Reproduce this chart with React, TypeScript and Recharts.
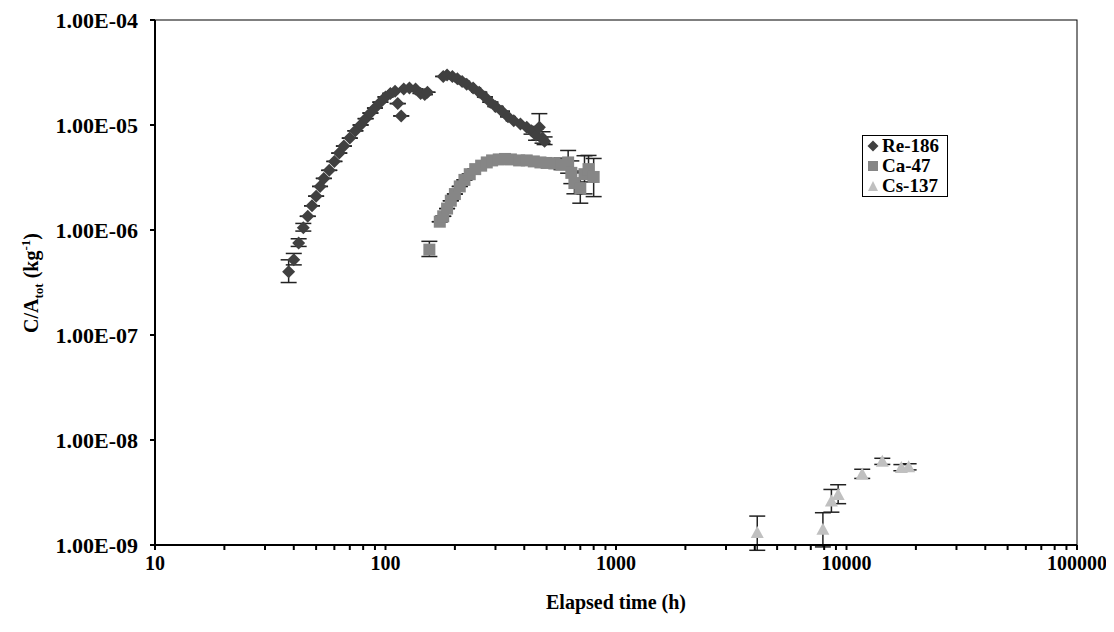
import React from 'react';
import { ScatterChart, Scatter, XAxis, YAxis, ErrorBar } from 'recharts';

const reT = [38,40,42,44,46,48,50,52,54,57,60,63,66,70,74,78,82,86,90,95,100,105,110,113,117,120,127,135,142,148,152,178,185,195,205,215,225,240,255,270,285,300,320,340,360,385,410,430,450,465,480,490];
const reV = [4.0e-7,5.2e-7,7.5e-7,1.05e-6,1.35e-6,1.7e-6,2.1e-6,2.6e-6,3.1e-6,3.7e-6,4.5e-6,5.4e-6,6.3e-6,7.5e-6,8.8e-6,1.0e-5,1.15e-5,1.3e-5,1.45e-5,1.65e-5,1.85e-5,2.0e-5,2.1e-5,1.6e-5,1.22e-5,2.2e-5,2.25e-5,2.2e-5,2.0e-5,1.95e-5,2.05e-5,2.9e-5,3.0e-5,2.9e-5,2.75e-5,2.6e-5,2.45e-5,2.25e-5,2.05e-5,1.85e-5,1.65e-5,1.5e-5,1.35e-5,1.2e-5,1.1e-5,1.02e-5,9.5e-6,8.8e-6,8.0e-6,9.5e-6,7.5e-6,7.0e-6];
const reErr = [0.3,0.15,0.1,0.1,0,0,0,0,0,0,0,0,0,0,0,0,0,0,0,0,0,0,0,0,0,0,0,0,0,0,0,0,0,0,0,0,0,0,0,0,0,0,0,0,0,0,0,0.1,0.15,0.35,0.15,0.1];

const caT = [155,172,178,185,192,200,210,220,232,245,260,275,290,310,330,350,380,410,440,470,500,540,580,620,640,660,700,730,760,800];
const caV = [6.5e-7,1.2e-6,1.35e-6,1.6e-6,1.9e-6,2.2e-6,2.6e-6,3.0e-6,3.4e-6,3.8e-6,4.1e-6,4.4e-6,4.6e-6,4.7e-6,4.75e-6,4.7e-6,4.6e-6,4.6e-6,4.5e-6,4.4e-6,4.35e-6,4.3e-6,4.2e-6,4.4e-6,3.5e-6,2.8e-6,2.5e-6,3.4e-6,3.8e-6,3.2e-6];
const caErr = [0.2,0,0,0,0,0,0,0,0,0,0,0,0,0,0,0,0,0,0.08,0.1,0.1,0.1,0.15,0.3,0.3,0.3,0.4,0.5,0.35,0.5];

const csT = [4100,7900,8600,9200,11700,14300,17300,18600];
const csV = [1.3e-9,1.4e-9,2.6e-9,3.0e-9,4.7e-9,6.2e-9,5.4e-9,5.5e-9];
const csErr = [0.45,0.45,0.3,0.25,0.12,0.08,0.08,0.08];

const xTicks = [10,20,30,40,50,60,70,80,90,100,200,300,400,500,600,700,800,900,1000,2000,3000,4000,5000,6000,7000,8000,9000,10000,20000,30000,40000,50000,60000,70000,80000,90000,100000];
const yTicks = [1e-9,1e-8,1e-7,1e-6,1e-5,1e-4];

const mk = (t: number[], v: number[], e: number[]) =>
  t.map((x, i) => ({ x, y: v[i], err: [v[i] * e[i] * 0.7, v[i] * e[i]] }));

const reData = mk(reT, reV, reErr);
const caData = mk(caT, caV, caErr);
const csData = mk(csT, csV, csErr);

const font = '"Liberation Serif", serif';

const fmtY = (v: number) => {
  const e = Math.round(Math.log10(v));
  return '1.00E' + (e < 0 ? '-' : '+') + String(Math.abs(e)).padStart(2, '0');
};
const fmtX = (v: number) => {
  const l = Math.log10(v);
  return Math.abs(l - Math.round(l)) < 1e-6 ? String(v) : '';
};

const Diamond = (p: any) => {
  const { cx, cy } = p;
  const s = 6.5;
  return <path d={`M${cx},${cy - s}L${cx + s},${cy}L${cx},${cy + s}L${cx - s},${cy}Z`} fill="#404040" />;
};
const Square = (p: any) => <rect x={p.cx - 6} y={p.cy - 6} width={12} height={12} fill="#868686" />;
const Tri = (p: any) => <path d={`M${p.cx},${p.cy - 7}L${p.cx + 6.5},${p.cy + 5}L${p.cx - 6.5},${p.cy + 5}Z`} fill="#c0c0c0" />;

const LegendBox = () => (
  <div style={{ border: '1px solid #000', background: '#fff', padding: '0px 4px', fontFamily: font, fontWeight: 'bold', fontSize: 19, lineHeight: '20px', width: 86, height: 62, boxSizing: 'border-box', whiteSpace: 'nowrap' }}>
    {[['#404040', 'Re-186', 'd'], ['#868686', 'Ca-47', 's'], ['#c0c0c0', 'Cs-137', 't']].map(([c, n, k]) => (
      <div key={n} style={{ display: 'flex', alignItems: 'center', height: 20 }}>
        <svg width={12} height={12} style={{ marginRight: 3 }}>
          {k === 'd' && <path d="M6,0.5L11.5,6L6,11.5L0.5,6Z" fill={c} />}
          {k === 's' && <rect x={1} y={1} width={10} height={10} fill={c} />}
          {k === 't' && <path d="M6,1L11,11L1,11Z" fill={c} />}
        </svg>
        {n}
      </div>
    ))}
  </div>
);

const YLabel = () => (
  <text transform="translate(30,275) rotate(-90)" textAnchor="middle" fontFamily={font} fontWeight="bold" fontSize={20} fill="#000">
    C/A<tspan fontSize={13} dy={5}>tot</tspan><tspan dy={-5}> (kg</tspan><tspan fontSize={13} dy={-8}>-1</tspan><tspan dy={8}>)</tspan>
  </text>
);

export default function App() {
  const tickStyle = { fontFamily: font, fontWeight: 'bold' as const, fontSize: 22, fill: '#000' };
  return (
    <div style={{ position: 'relative', width: 1098, height: 616 }}>
      <ScatterChart width={1098} height={616} margin={{ top: 12, right: 29, bottom: 49, left: 47 }}>
        <XAxis type="number" dataKey="x" scale="log" domain={[10, 100000]} ticks={xTicks} tickFormatter={fmtX}
          allowDataOverflow interval={0} tick={{ ...tickStyle, fontSize: 20 }} stroke="#000" strokeWidth={2} tickSize={5} tickMargin={6} height={30}
          label={{ value: 'Elapsed time (h)', position: 'bottom', offset: 20, style: { fontFamily: font, fontWeight: 'bold', fontSize: 20, fill: '#000' } }} />
        <YAxis type="number" dataKey="y" scale="log" domain={[1e-9, 1e-4]} ticks={yTicks} tickFormatter={fmtY}
          allowDataOverflow interval={0} tick={tickStyle} stroke="#000" strokeWidth={2} tickSize={5} tickMargin={12} width={100} />
        <Scatter data={reData} shape={<Diamond />} isAnimationActive={false}>
          <ErrorBar dataKey="err" direction="y" width={8} stroke="#222" strokeWidth={1.5} />
        </Scatter>
        <Scatter data={caData} shape={<Square />} isAnimationActive={false}>
          <ErrorBar dataKey="err" direction="y" width={8} stroke="#222" strokeWidth={1.5} />
        </Scatter>
        <Scatter data={csData} shape={<Tri />} isAnimationActive={false}>
          <ErrorBar dataKey="err" direction="y" width={8} stroke="#222" strokeWidth={1.5} />
        </Scatter>
      </ScatterChart>
      <svg width={1098} height={616} style={{ position: 'absolute', left: 0, top: 0, pointerEvents: 'none' }}>
        <rect x={147} y={12} width={922} height={525} fill="none" stroke="#000" strokeWidth={1} />
        <YLabel />
      </svg>
      <div style={{ position: 'absolute', left: 854, top: 127 }}>
        <LegendBox />
      </div>
    </div>
  );
}
